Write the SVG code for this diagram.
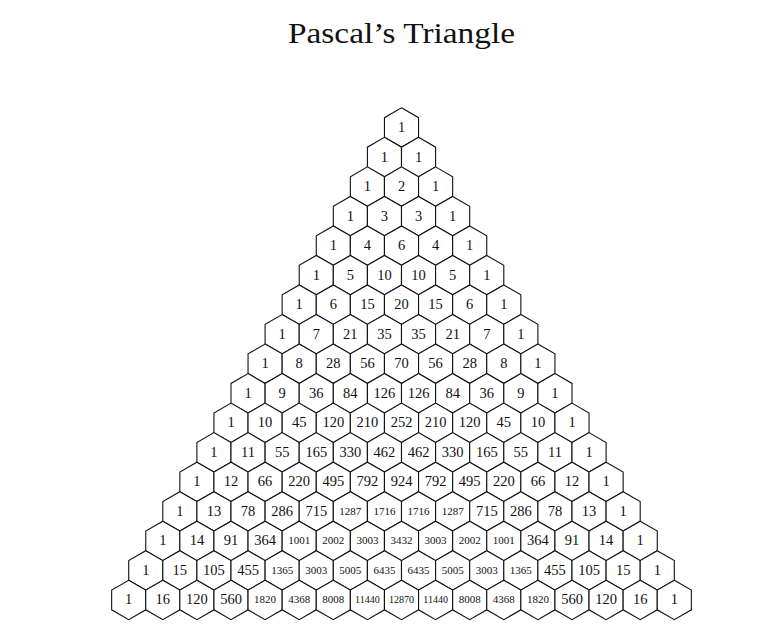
<svg xmlns="http://www.w3.org/2000/svg" xmlns:xlink="http://www.w3.org/1999/xlink" width="782" height="635" viewBox="0 0 782 635">
<style>
.hx{fill:#fff;stroke:#111;stroke-width:1.1;stroke-linejoin:miter}
text{font-family:"Liberation Serif","Times New Roman",serif;fill:#111;text-anchor:middle}
.t{font-size:14.5px}
.t4{font-size:11px}
.t5{font-size:10px}
.ttl{font-size:29px}
</style>
<defs>
<polygon id="h" class="hx" points="0,-19.69 17.05,-9.845 17.05,9.845 0,19.69 -17.05,9.845 -17.05,-9.845"/>
</defs>
<rect width="782" height="635" fill="#fff"/>
<text class="ttl" x="401.5" y="43" textLength="227" lengthAdjust="spacingAndGlyphs">Pascal’s Triangle</text>
<g id="triangle">
<g id="row0" transform="translate(401.5,127.5)">
<g id="n0_0"><use xlink:href="#h"/><text class="t" y="4.5">1</text></g>
</g>
<g id="row1" transform="translate(384.45,157.03)">
<g id="n1_0"><use xlink:href="#h"/><text class="t" y="4.5">1</text></g>
<g id="n1_1" transform="translate(34.1,0)"><use xlink:href="#h"/><text class="t" y="4.5">1</text></g>
</g>
<g id="row2" transform="translate(367.4,186.56)">
<g id="n2_0"><use xlink:href="#h"/><text class="t" y="4.5">1</text></g>
<g id="n2_1" transform="translate(34.1,0)"><use xlink:href="#h"/><text class="t" y="4.5">2</text></g>
<g id="n2_2" transform="translate(68.2,0)"><use xlink:href="#h"/><text class="t" y="4.5">1</text></g>
</g>
<g id="row3" transform="translate(350.35,216.09)">
<g id="n3_0"><use xlink:href="#h"/><text class="t" y="4.5">1</text></g>
<g id="n3_1" transform="translate(34.1,0)"><use xlink:href="#h"/><text class="t" y="4.5">3</text></g>
<g id="n3_2" transform="translate(68.2,0)"><use xlink:href="#h"/><text class="t" y="4.5">3</text></g>
<g id="n3_3" transform="translate(102.3,0)"><use xlink:href="#h"/><text class="t" y="4.5">1</text></g>
</g>
<g id="row4" transform="translate(333.3,245.62)">
<g id="n4_0"><use xlink:href="#h"/><text class="t" y="4.5">1</text></g>
<g id="n4_1" transform="translate(34.1,0)"><use xlink:href="#h"/><text class="t" y="4.5">4</text></g>
<g id="n4_2" transform="translate(68.2,0)"><use xlink:href="#h"/><text class="t" y="4.5">6</text></g>
<g id="n4_3" transform="translate(102.3,0)"><use xlink:href="#h"/><text class="t" y="4.5">4</text></g>
<g id="n4_4" transform="translate(136.4,0)"><use xlink:href="#h"/><text class="t" y="4.5">1</text></g>
</g>
<g id="row5" transform="translate(316.25,275.15)">
<g id="n5_0"><use xlink:href="#h"/><text class="t" y="4.5">1</text></g>
<g id="n5_1" transform="translate(34.1,0)"><use xlink:href="#h"/><text class="t" y="4.5">5</text></g>
<g id="n5_2" transform="translate(68.2,0)"><use xlink:href="#h"/><text class="t" y="4.5">10</text></g>
<g id="n5_3" transform="translate(102.3,0)"><use xlink:href="#h"/><text class="t" y="4.5">10</text></g>
<g id="n5_4" transform="translate(136.4,0)"><use xlink:href="#h"/><text class="t" y="4.5">5</text></g>
<g id="n5_5" transform="translate(170.5,0)"><use xlink:href="#h"/><text class="t" y="4.5">1</text></g>
</g>
<g id="row6" transform="translate(299.2,304.68)">
<g id="n6_0"><use xlink:href="#h"/><text class="t" y="4.5">1</text></g>
<g id="n6_1" transform="translate(34.1,0)"><use xlink:href="#h"/><text class="t" y="4.5">6</text></g>
<g id="n6_2" transform="translate(68.2,0)"><use xlink:href="#h"/><text class="t" y="4.5">15</text></g>
<g id="n6_3" transform="translate(102.3,0)"><use xlink:href="#h"/><text class="t" y="4.5">20</text></g>
<g id="n6_4" transform="translate(136.4,0)"><use xlink:href="#h"/><text class="t" y="4.5">15</text></g>
<g id="n6_5" transform="translate(170.5,0)"><use xlink:href="#h"/><text class="t" y="4.5">6</text></g>
<g id="n6_6" transform="translate(204.6,0)"><use xlink:href="#h"/><text class="t" y="4.5">1</text></g>
</g>
<g id="row7" transform="translate(282.15,334.21)">
<g id="n7_0"><use xlink:href="#h"/><text class="t" y="4.5">1</text></g>
<g id="n7_1" transform="translate(34.1,0)"><use xlink:href="#h"/><text class="t" y="4.5">7</text></g>
<g id="n7_2" transform="translate(68.2,0)"><use xlink:href="#h"/><text class="t" y="4.5">21</text></g>
<g id="n7_3" transform="translate(102.3,0)"><use xlink:href="#h"/><text class="t" y="4.5">35</text></g>
<g id="n7_4" transform="translate(136.4,0)"><use xlink:href="#h"/><text class="t" y="4.5">35</text></g>
<g id="n7_5" transform="translate(170.5,0)"><use xlink:href="#h"/><text class="t" y="4.5">21</text></g>
<g id="n7_6" transform="translate(204.6,0)"><use xlink:href="#h"/><text class="t" y="4.5">7</text></g>
<g id="n7_7" transform="translate(238.7,0)"><use xlink:href="#h"/><text class="t" y="4.5">1</text></g>
</g>
<g id="row8" transform="translate(265.1,363.74)">
<g id="n8_0"><use xlink:href="#h"/><text class="t" y="4.5">1</text></g>
<g id="n8_1" transform="translate(34.1,0)"><use xlink:href="#h"/><text class="t" y="4.5">8</text></g>
<g id="n8_2" transform="translate(68.2,0)"><use xlink:href="#h"/><text class="t" y="4.5">28</text></g>
<g id="n8_3" transform="translate(102.3,0)"><use xlink:href="#h"/><text class="t" y="4.5">56</text></g>
<g id="n8_4" transform="translate(136.4,0)"><use xlink:href="#h"/><text class="t" y="4.5">70</text></g>
<g id="n8_5" transform="translate(170.5,0)"><use xlink:href="#h"/><text class="t" y="4.5">56</text></g>
<g id="n8_6" transform="translate(204.6,0)"><use xlink:href="#h"/><text class="t" y="4.5">28</text></g>
<g id="n8_7" transform="translate(238.7,0)"><use xlink:href="#h"/><text class="t" y="4.5">8</text></g>
<g id="n8_8" transform="translate(272.8,0)"><use xlink:href="#h"/><text class="t" y="4.5">1</text></g>
</g>
<g id="row9" transform="translate(248.05,393.27)">
<g id="n9_0"><use xlink:href="#h"/><text class="t" y="4.5">1</text></g>
<g id="n9_1" transform="translate(34.1,0)"><use xlink:href="#h"/><text class="t" y="4.5">9</text></g>
<g id="n9_2" transform="translate(68.2,0)"><use xlink:href="#h"/><text class="t" y="4.5">36</text></g>
<g id="n9_3" transform="translate(102.3,0)"><use xlink:href="#h"/><text class="t" y="4.5">84</text></g>
<g id="n9_4" transform="translate(136.4,0)"><use xlink:href="#h"/><text class="t" y="4.5">126</text></g>
<g id="n9_5" transform="translate(170.5,0)"><use xlink:href="#h"/><text class="t" y="4.5">126</text></g>
<g id="n9_6" transform="translate(204.6,0)"><use xlink:href="#h"/><text class="t" y="4.5">84</text></g>
<g id="n9_7" transform="translate(238.7,0)"><use xlink:href="#h"/><text class="t" y="4.5">36</text></g>
<g id="n9_8" transform="translate(272.8,0)"><use xlink:href="#h"/><text class="t" y="4.5">9</text></g>
<g id="n9_9" transform="translate(306.9,0)"><use xlink:href="#h"/><text class="t" y="4.5">1</text></g>
</g>
<g id="row10" transform="translate(231,422.8)">
<g id="n10_0"><use xlink:href="#h"/><text class="t" y="4.5">1</text></g>
<g id="n10_1" transform="translate(34.1,0)"><use xlink:href="#h"/><text class="t" y="4.5">10</text></g>
<g id="n10_2" transform="translate(68.2,0)"><use xlink:href="#h"/><text class="t" y="4.5">45</text></g>
<g id="n10_3" transform="translate(102.3,0)"><use xlink:href="#h"/><text class="t" y="4.5">120</text></g>
<g id="n10_4" transform="translate(136.4,0)"><use xlink:href="#h"/><text class="t" y="4.5">210</text></g>
<g id="n10_5" transform="translate(170.5,0)"><use xlink:href="#h"/><text class="t" y="4.5">252</text></g>
<g id="n10_6" transform="translate(204.6,0)"><use xlink:href="#h"/><text class="t" y="4.5">210</text></g>
<g id="n10_7" transform="translate(238.7,0)"><use xlink:href="#h"/><text class="t" y="4.5">120</text></g>
<g id="n10_8" transform="translate(272.8,0)"><use xlink:href="#h"/><text class="t" y="4.5">45</text></g>
<g id="n10_9" transform="translate(306.9,0)"><use xlink:href="#h"/><text class="t" y="4.5">10</text></g>
<g id="n10_10" transform="translate(341,0)"><use xlink:href="#h"/><text class="t" y="4.5">1</text></g>
</g>
<g id="row11" transform="translate(213.95,452.33)">
<g id="n11_0"><use xlink:href="#h"/><text class="t" y="4.5">1</text></g>
<g id="n11_1" transform="translate(34.1,0)"><use xlink:href="#h"/><text class="t" y="4.5">11</text></g>
<g id="n11_2" transform="translate(68.2,0)"><use xlink:href="#h"/><text class="t" y="4.5">55</text></g>
<g id="n11_3" transform="translate(102.3,0)"><use xlink:href="#h"/><text class="t" y="4.5">165</text></g>
<g id="n11_4" transform="translate(136.4,0)"><use xlink:href="#h"/><text class="t" y="4.5">330</text></g>
<g id="n11_5" transform="translate(170.5,0)"><use xlink:href="#h"/><text class="t" y="4.5">462</text></g>
<g id="n11_6" transform="translate(204.6,0)"><use xlink:href="#h"/><text class="t" y="4.5">462</text></g>
<g id="n11_7" transform="translate(238.7,0)"><use xlink:href="#h"/><text class="t" y="4.5">330</text></g>
<g id="n11_8" transform="translate(272.8,0)"><use xlink:href="#h"/><text class="t" y="4.5">165</text></g>
<g id="n11_9" transform="translate(306.9,0)"><use xlink:href="#h"/><text class="t" y="4.5">55</text></g>
<g id="n11_10" transform="translate(341,0)"><use xlink:href="#h"/><text class="t" y="4.5">11</text></g>
<g id="n11_11" transform="translate(375.1,0)"><use xlink:href="#h"/><text class="t" y="4.5">1</text></g>
</g>
<g id="row12" transform="translate(196.9,481.86)">
<g id="n12_0"><use xlink:href="#h"/><text class="t" y="4.5">1</text></g>
<g id="n12_1" transform="translate(34.1,0)"><use xlink:href="#h"/><text class="t" y="4.5">12</text></g>
<g id="n12_2" transform="translate(68.2,0)"><use xlink:href="#h"/><text class="t" y="4.5">66</text></g>
<g id="n12_3" transform="translate(102.3,0)"><use xlink:href="#h"/><text class="t" y="4.5">220</text></g>
<g id="n12_4" transform="translate(136.4,0)"><use xlink:href="#h"/><text class="t" y="4.5">495</text></g>
<g id="n12_5" transform="translate(170.5,0)"><use xlink:href="#h"/><text class="t" y="4.5">792</text></g>
<g id="n12_6" transform="translate(204.6,0)"><use xlink:href="#h"/><text class="t" y="4.5">924</text></g>
<g id="n12_7" transform="translate(238.7,0)"><use xlink:href="#h"/><text class="t" y="4.5">792</text></g>
<g id="n12_8" transform="translate(272.8,0)"><use xlink:href="#h"/><text class="t" y="4.5">495</text></g>
<g id="n12_9" transform="translate(306.9,0)"><use xlink:href="#h"/><text class="t" y="4.5">220</text></g>
<g id="n12_10" transform="translate(341,0)"><use xlink:href="#h"/><text class="t" y="4.5">66</text></g>
<g id="n12_11" transform="translate(375.1,0)"><use xlink:href="#h"/><text class="t" y="4.5">12</text></g>
<g id="n12_12" transform="translate(409.2,0)"><use xlink:href="#h"/><text class="t" y="4.5">1</text></g>
</g>
<g id="row13" transform="translate(179.85,511.39)">
<g id="n13_0"><use xlink:href="#h"/><text class="t" y="4.5">1</text></g>
<g id="n13_1" transform="translate(34.1,0)"><use xlink:href="#h"/><text class="t" y="4.5">13</text></g>
<g id="n13_2" transform="translate(68.2,0)"><use xlink:href="#h"/><text class="t" y="4.5">78</text></g>
<g id="n13_3" transform="translate(102.3,0)"><use xlink:href="#h"/><text class="t" y="4.5">286</text></g>
<g id="n13_4" transform="translate(136.4,0)"><use xlink:href="#h"/><text class="t" y="4.5">715</text></g>
<g id="n13_5" transform="translate(170.5,0)"><use xlink:href="#h"/><text class="t4" y="3.3">1287</text></g>
<g id="n13_6" transform="translate(204.6,0)"><use xlink:href="#h"/><text class="t4" y="3.3">1716</text></g>
<g id="n13_7" transform="translate(238.7,0)"><use xlink:href="#h"/><text class="t4" y="3.3">1716</text></g>
<g id="n13_8" transform="translate(272.8,0)"><use xlink:href="#h"/><text class="t4" y="3.3">1287</text></g>
<g id="n13_9" transform="translate(306.9,0)"><use xlink:href="#h"/><text class="t" y="4.5">715</text></g>
<g id="n13_10" transform="translate(341,0)"><use xlink:href="#h"/><text class="t" y="4.5">286</text></g>
<g id="n13_11" transform="translate(375.1,0)"><use xlink:href="#h"/><text class="t" y="4.5">78</text></g>
<g id="n13_12" transform="translate(409.2,0)"><use xlink:href="#h"/><text class="t" y="4.5">13</text></g>
<g id="n13_13" transform="translate(443.3,0)"><use xlink:href="#h"/><text class="t" y="4.5">1</text></g>
</g>
<g id="row14" transform="translate(162.8,540.92)">
<g id="n14_0"><use xlink:href="#h"/><text class="t" y="4.5">1</text></g>
<g id="n14_1" transform="translate(34.1,0)"><use xlink:href="#h"/><text class="t" y="4.5">14</text></g>
<g id="n14_2" transform="translate(68.2,0)"><use xlink:href="#h"/><text class="t" y="4.5">91</text></g>
<g id="n14_3" transform="translate(102.3,0)"><use xlink:href="#h"/><text class="t" y="4.5">364</text></g>
<g id="n14_4" transform="translate(136.4,0)"><use xlink:href="#h"/><text class="t4" y="3.3">1001</text></g>
<g id="n14_5" transform="translate(170.5,0)"><use xlink:href="#h"/><text class="t4" y="3.3">2002</text></g>
<g id="n14_6" transform="translate(204.6,0)"><use xlink:href="#h"/><text class="t4" y="3.3">3003</text></g>
<g id="n14_7" transform="translate(238.7,0)"><use xlink:href="#h"/><text class="t4" y="3.3">3432</text></g>
<g id="n14_8" transform="translate(272.8,0)"><use xlink:href="#h"/><text class="t4" y="3.3">3003</text></g>
<g id="n14_9" transform="translate(306.9,0)"><use xlink:href="#h"/><text class="t4" y="3.3">2002</text></g>
<g id="n14_10" transform="translate(341,0)"><use xlink:href="#h"/><text class="t4" y="3.3">1001</text></g>
<g id="n14_11" transform="translate(375.1,0)"><use xlink:href="#h"/><text class="t" y="4.5">364</text></g>
<g id="n14_12" transform="translate(409.2,0)"><use xlink:href="#h"/><text class="t" y="4.5">91</text></g>
<g id="n14_13" transform="translate(443.3,0)"><use xlink:href="#h"/><text class="t" y="4.5">14</text></g>
<g id="n14_14" transform="translate(477.4,0)"><use xlink:href="#h"/><text class="t" y="4.5">1</text></g>
</g>
<g id="row15" transform="translate(145.75,570.45)">
<g id="n15_0"><use xlink:href="#h"/><text class="t" y="4.5">1</text></g>
<g id="n15_1" transform="translate(34.1,0)"><use xlink:href="#h"/><text class="t" y="4.5">15</text></g>
<g id="n15_2" transform="translate(68.2,0)"><use xlink:href="#h"/><text class="t" y="4.5">105</text></g>
<g id="n15_3" transform="translate(102.3,0)"><use xlink:href="#h"/><text class="t" y="4.5">455</text></g>
<g id="n15_4" transform="translate(136.4,0)"><use xlink:href="#h"/><text class="t4" y="3.3">1365</text></g>
<g id="n15_5" transform="translate(170.5,0)"><use xlink:href="#h"/><text class="t4" y="3.3">3003</text></g>
<g id="n15_6" transform="translate(204.6,0)"><use xlink:href="#h"/><text class="t4" y="3.3">5005</text></g>
<g id="n15_7" transform="translate(238.7,0)"><use xlink:href="#h"/><text class="t4" y="3.3">6435</text></g>
<g id="n15_8" transform="translate(272.8,0)"><use xlink:href="#h"/><text class="t4" y="3.3">6435</text></g>
<g id="n15_9" transform="translate(306.9,0)"><use xlink:href="#h"/><text class="t4" y="3.3">5005</text></g>
<g id="n15_10" transform="translate(341,0)"><use xlink:href="#h"/><text class="t4" y="3.3">3003</text></g>
<g id="n15_11" transform="translate(375.1,0)"><use xlink:href="#h"/><text class="t4" y="3.3">1365</text></g>
<g id="n15_12" transform="translate(409.2,0)"><use xlink:href="#h"/><text class="t" y="4.5">455</text></g>
<g id="n15_13" transform="translate(443.3,0)"><use xlink:href="#h"/><text class="t" y="4.5">105</text></g>
<g id="n15_14" transform="translate(477.4,0)"><use xlink:href="#h"/><text class="t" y="4.5">15</text></g>
<g id="n15_15" transform="translate(511.5,0)"><use xlink:href="#h"/><text class="t" y="4.5">1</text></g>
</g>
<g id="row16" transform="translate(128.7,599.98)">
<g id="n16_0"><use xlink:href="#h"/><text class="t" y="4.5">1</text></g>
<g id="n16_1" transform="translate(34.1,0)"><use xlink:href="#h"/><text class="t" y="4.5">16</text></g>
<g id="n16_2" transform="translate(68.2,0)"><use xlink:href="#h"/><text class="t" y="4.5">120</text></g>
<g id="n16_3" transform="translate(102.3,0)"><use xlink:href="#h"/><text class="t" y="4.5">560</text></g>
<g id="n16_4" transform="translate(136.4,0)"><use xlink:href="#h"/><text class="t4" y="3.3">1820</text></g>
<g id="n16_5" transform="translate(170.5,0)"><use xlink:href="#h"/><text class="t4" y="3.3">4368</text></g>
<g id="n16_6" transform="translate(204.6,0)"><use xlink:href="#h"/><text class="t4" y="3.3">8008</text></g>
<g id="n16_7" transform="translate(238.7,0)"><use xlink:href="#h"/><text class="t5" y="3">11440</text></g>
<g id="n16_8" transform="translate(272.8,0)"><use xlink:href="#h"/><text class="t5" y="3">12870</text></g>
<g id="n16_9" transform="translate(306.9,0)"><use xlink:href="#h"/><text class="t5" y="3">11440</text></g>
<g id="n16_10" transform="translate(341,0)"><use xlink:href="#h"/><text class="t4" y="3.3">8008</text></g>
<g id="n16_11" transform="translate(375.1,0)"><use xlink:href="#h"/><text class="t4" y="3.3">4368</text></g>
<g id="n16_12" transform="translate(409.2,0)"><use xlink:href="#h"/><text class="t4" y="3.3">1820</text></g>
<g id="n16_13" transform="translate(443.3,0)"><use xlink:href="#h"/><text class="t" y="4.5">560</text></g>
<g id="n16_14" transform="translate(477.4,0)"><use xlink:href="#h"/><text class="t" y="4.5">120</text></g>
<g id="n16_15" transform="translate(511.5,0)"><use xlink:href="#h"/><text class="t" y="4.5">16</text></g>
<g id="n16_16" transform="translate(545.6,0)"><use xlink:href="#h"/><text class="t" y="4.5">1</text></g>
</g>
</g>
</svg>
